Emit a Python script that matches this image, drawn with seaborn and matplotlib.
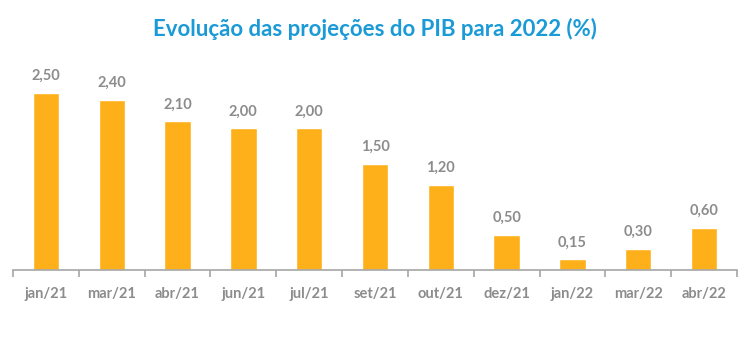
import matplotlib
matplotlib.use("Agg")
import matplotlib.pyplot as plt
import seaborn as sns
import pandas as pd
import numpy as np

# dados
meses = ['jan/21', 'mar/21', 'abr/21', 'jun/21', 'jul/21', 'set/21',
         'out/21', 'dez/21', 'jan/22', 'mar/22', 'abr/22']
projecoes = [2.50, 2.40, 2.10, 2.00, 2.00, 1.50, 1.20, 0.50, 0.15, 0.30, 0.60]

sns.set_theme(style="white")
plt.rcParams['font.family'] = ['Lato', 'DejaVu Sans']

cor_barra = '#FDB01A'
cor_cinza = '#8C8C8C'
cor_titulo = '#1A9AD6'

df = pd.DataFrame({'mes': meses, 'valor': projecoes})

fig = plt.figure(figsize=(7.5, 3.55), dpi=100)
ax = fig.add_axes([13 / 750, 85 / 355, 724 / 750, 210 / 355])

sns.barplot(data=df, x='mes', y='valor', color=cor_barra, width=0.4,
            saturation=1, ax=ax)

ax.set_ylim(0, 210 / 70.8)
ax.set_xlim(-0.5, len(meses) - 0.5)

# rótulos de valor
for i, v in enumerate(projecoes):
    ax.text(i, v + 0.14, f"{v:.2f}".replace('.', ','), ha='center', va='bottom',
            fontsize=10.5, fontweight='bold', color=cor_cinza)

# eixos
for s in ['top', 'right', 'left']:
    ax.spines[s].set_visible(False)
ax.spines['bottom'].set_color('#A6A6A6')
ax.spines['bottom'].set_linewidth(1.2)
ax.set_yticks([])
ax.set_xlabel('')
ax.set_ylabel('')
ax.set_xticks(range(len(meses)))
ax.set_xticklabels(meses, fontsize=10.5, fontweight='bold', color=cor_cinza)
ax.tick_params(axis='x', which='major', length=0, pad=12)
ax.set_xticks(np.arange(-0.5, len(meses)), minor=True)
ax.tick_params(axis='x', which='minor', length=5, width=1.2, color='#A6A6A6',
               direction='out', bottom=True)

fig.text(0.5, 1 - 29 / 355, 'Evolução das projeções do PIB para 2022 (%)',
         ha='center', va='center', fontsize=16, fontweight='bold', color=cor_titulo)

fig.savefig('out.png', dpi=100)
